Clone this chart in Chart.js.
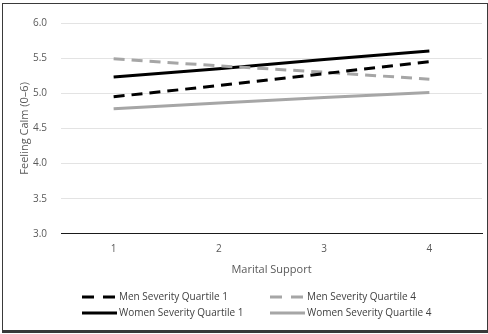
<!DOCTYPE html>
<html>
    <head>
        <title>Feeling Calm by Marital Support</title>
        <style>
            html, body { margin: 0; padding: 0; background: #fff; }
            #wrap { width: 488px; height: 334px; position: relative; }
        </style>
    </head>
    <body>
        <script src="https://cdn.jsdelivr.net/npm/chart.js"></script>
        <div id="wrap">
            <canvas id="myChart" width="488" height="334"></canvas>
        </div>
        <script>
            // values
            const supportLevels = ['1', '2', '3', '4'];
            const menQ1 = [4.95, 5.11, 5.28, 5.45];
            const menQ4 = [5.49, 5.39, 5.30, 5.20];
            const womenQ1 = [5.23, 5.35, 5.48, 5.60];
            const womenQ4 = [4.78, 4.86, 4.94, 5.01];
            const yTicks = [3.0, 3.5, 4.0, 4.5, 5.0, 5.5, 6.0];

            const FONT = "'Open Sans', sans-serif";
            const BLACK = '#000000';
            const GREY = '#a6a6a6';

            // two-column legend like the original (Excel style)
            const gridLegend = {
                id: 'gridLegend',
                afterDraw(chart) {
                    const c = chart.ctx;
                    const cols = [82, 270];
                    const rows = [297, 313];
                    c.save();
                    chart.data.datasets.forEach((ds, i) => {
                        const x = cols[i % 2];
                        const y = rows[Math.floor(i / 2)];
                        c.strokeStyle = ds.borderColor;
                        c.lineWidth = 3;
                        c.setLineDash(ds.borderDash.length ? [12, 9] : []);
                        c.beginPath();
                        c.moveTo(x, y);
                        c.lineTo(x + 35, y);
                        c.stroke();
                        c.setLineDash([]);
                        c.fillStyle = '#404040';
                        c.font = '10px ' + FONT;
                        c.textBaseline = 'middle';
                        c.fillText(ds.label, x + 37, y);
                    });
                    // outer frame
                    c.strokeStyle = '#3a3a3a';
                    c.lineWidth = 1;
                    c.strokeRect(2.5, 3.5, 485, 327);
                    c.lineWidth = 2;
                    c.beginPath();
                    c.moveTo(2, 332);
                    c.lineTo(488, 332);
                    c.stroke();
                    c.restore();
                }
            };

            const ctx = document.getElementById('myChart').getContext('2d');
            const myChart = new Chart(ctx, {
                type: 'line',
                data: {
                    labels: supportLevels,
                    datasets: [
                        { label: 'Men Severity Quartile 1', data: menQ1, borderColor: BLACK, borderDash: [11, 7] },
                        { label: 'Men Severity Quartile 4', data: menQ4, borderColor: GREY, borderDash: [11, 7] },
                        { label: 'Women Severity Quartile 1', data: womenQ1, borderColor: BLACK, borderDash: [] },
                        { label: 'Women Severity Quartile 4', data: womenQ4, borderColor: GREY, borderDash: [] }
                    ].map(d => Object.assign(d, { borderWidth: 3, pointRadius: 0, tension: 0, fill: false }))
                },
                options: {
                    responsive: false,
                    animation: false,
                    layout: { padding: { left: 18, top: 23, right: 6, bottom: 58 } },
                    plugins: {
                        legend: { display: false },
                        tooltip: { enabled: false }
                    },
                    scales: {
                        x: {
                            offset: true,
                            grid: { display: false, drawTicks: false },
                            border: { display: true, color: '#1a1a1a', width: 1 },
                            ticks: { color: '#595959', padding: 9, font: { family: FONT, size: 10 } },
                            title: {
                                display: true,
                                text: 'Marital Support',
                                color: '#595959',
                                font: { family: FONT, size: 11 },
                                padding: { top: -1, bottom: 0 }
                            }
                        },
                        y: {
                            min: 3,
                            max: 6,
                            afterFit(scale) { scale.width = 43; },
                            afterBuildTicks(scale) { scale.ticks = yTicks.map(v => ({ value: v })); },
                            grid: { color: '#e3e3e3', lineWidth: 1, drawTicks: false },
                            border: { display: false },
                            ticks: {
                                color: '#595959',
                                padding: 14,
                                font: { family: FONT, size: 10 },
                                callback: v => Number(v).toFixed(1)
                            },
                            title: {
                                display: true,
                                text: 'Feeling Calm (0–6)',
                                color: '#595959',
                                font: { family: FONT, size: 11 },
                                padding: 0
                            }
                        }
                    }
                },
                plugins: [gridLegend]
            });
        </script>
    </body>
</html>
